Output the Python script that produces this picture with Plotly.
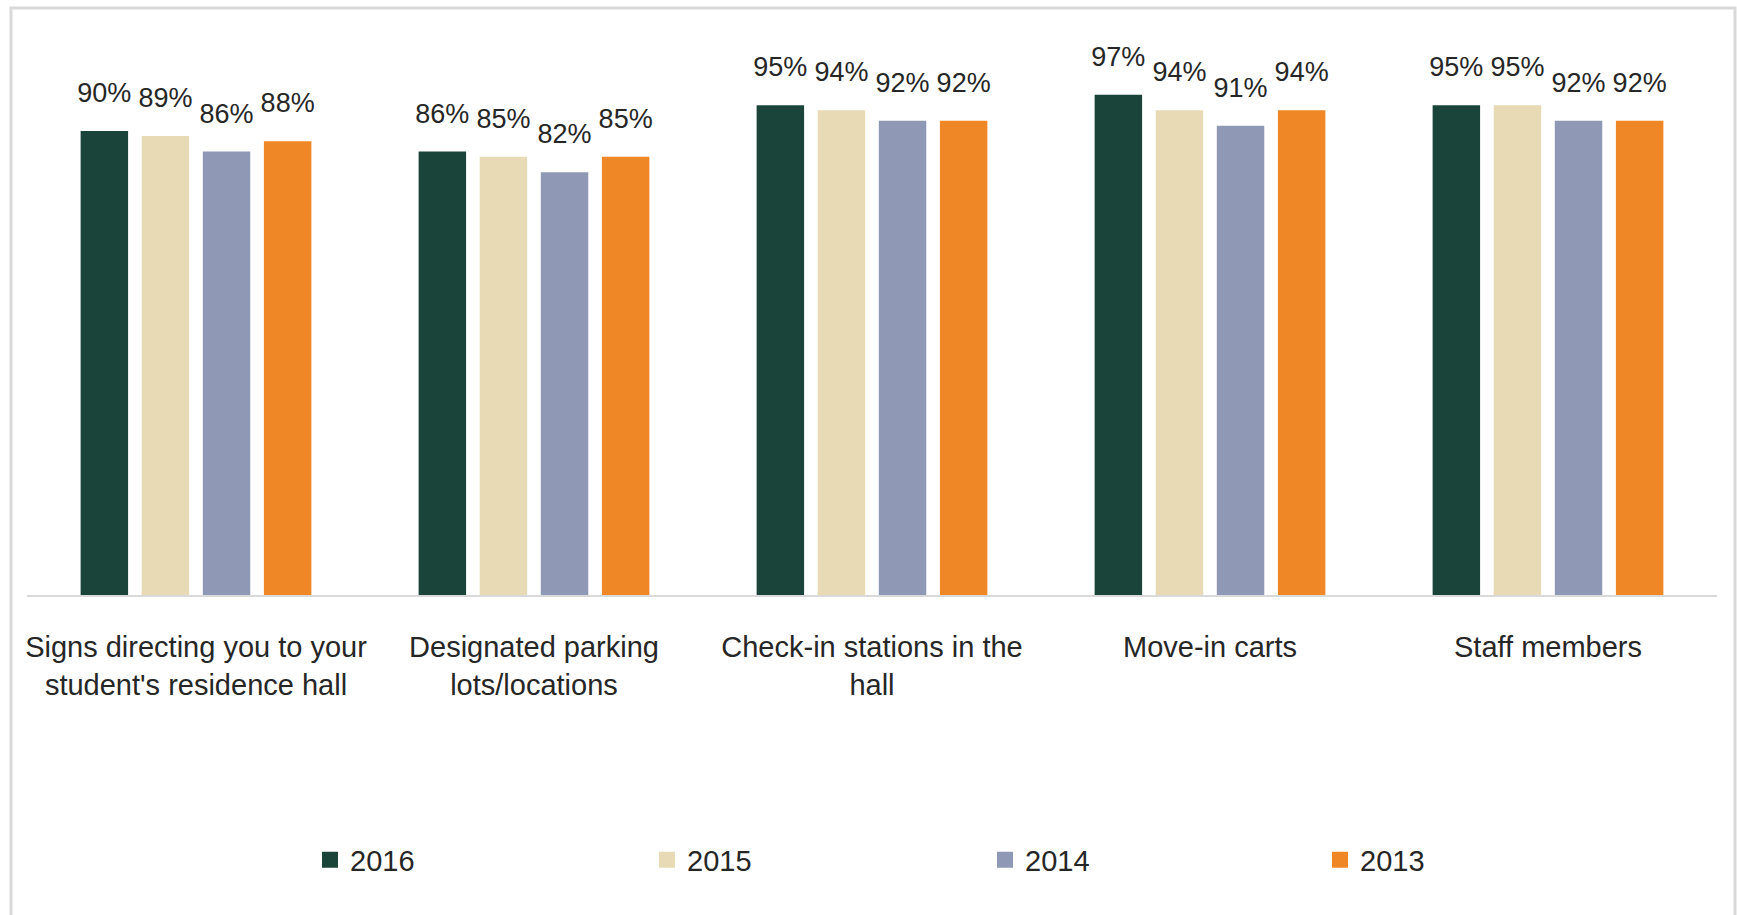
import plotly.graph_objects as go

categories = [
    "Signs directing you to your<br>student's residence hall",
    "Designated parking<br>lots/locations",
    "Check-in stations in the<br>hall",
    "Move-in carts",
    "Staff members",
]
years = ["2016", "2015", "2014", "2013"]
v2016 = [90, 86, 95, 97, 95]
v2015 = [89, 85, 94, 94, 95]
v2014 = [86, 82, 92, 91, 92]
v2013 = [88, 85, 92, 94, 92]
values = [v2016, v2015, v2014, v2013]
colors = ["#1a443a", "#e7dab4", "#8f99b6", "#f08726"]

FONT = "Liberation Sans, Arial, sans-serif"
TXT = "#262626"

fig = go.Figure()
for yr, vals, col in zip(years, values, colors):
    fig.add_trace(go.Bar(
        x=categories, y=vals, name=yr, marker=dict(color=col, line=dict(width=0)),
        showlegend=False, hoverinfo="skip",
    ))
for yr, vals, col in zip(years, values, colors):
    fig.add_trace(go.Scatter(
        x=categories, y=vals, mode="markers+text", text=[f"{v}%" for v in vals],
        textposition="top center", textfont=dict(family=FONT, size=27, color=TXT),
        marker=dict(size=34, opacity=0, color=col), showlegend=False,
        hoverinfo="skip", cliponaxis=False,
    ))

legend_names = ["legend", "legend2", "legend3", "legend4"]
legend_px = [326, 663, 1001, 1336]
for yr, col, ln in zip(years, colors, legend_names):
    fig.add_trace(go.Scatter(
        x=[0], y=[-1000], mode="markers", name=yr, xaxis="x2", yaxis="y2",
        marker=dict(symbol="square", size=17, color=col), legend=ln, showlegend=True,
    ))

W, H = 1737, 915
ml, mr, mt, mb = 27, 20, 40, 320
ph = H - mt - mb
ppu = 5.156
layout_legends = {}
for ln, px in zip(legend_names, legend_px):
    layout_legends[ln] = dict(
        x=(px - 16) / W, xref="container", xanchor="left",
        y=1 - 860 / H, yref="container", yanchor="middle",
        orientation="h", bgcolor="rgba(0,0,0,0)",
        font=dict(family=FONT, size=29, color=TXT),
    )

fig.update_layout(
    width=W, height=H,
    margin=dict(l=ml, r=mr, t=mt, b=mb, autoexpand=False),
    paper_bgcolor="white", plot_bgcolor="white",
    barmode="group", bargap=0.277, bargroupgap=0.223,
    scattermode="group", scattergap=0.277,
    hovermode=False,
    xaxis=dict(
        showline=True, linecolor="#d9d9d9", linewidth=2, ticks="",
        tickfont=dict(family=FONT, size=29, color=TXT), showgrid=False,
        tickangle=0, automargin=False, ticklabelstandoff=25,
    ),
    yaxis=dict(range=[0, ph / ppu], visible=False, showgrid=False, zeroline=False,
               automargin=False),
    xaxis2=dict(visible=False, anchor="y2", overlaying="x", range=[0, 1]),
    yaxis2=dict(visible=False, anchor="x2", overlaying="y", range=[0, 1]),
    shapes=[dict(
        type="rect", xref="paper", yref="paper",
        x0=(11 - ml) / (W - ml - mr), x1=(1735 - ml) / (W - ml - mr),
        y0=(H - mb - 925) / ph, y1=(H - mb - 8) / ph,
        line=dict(color="#d9d9d9", width=3), fillcolor="rgba(0,0,0,0)", layer="below",
    )],
    **layout_legends,
)

fig.write_html(
    "out.html",
    config={"displayModeBar": False},
    post_script="document.body.style.margin='0';document.body.style.overflow='hidden';",
)
